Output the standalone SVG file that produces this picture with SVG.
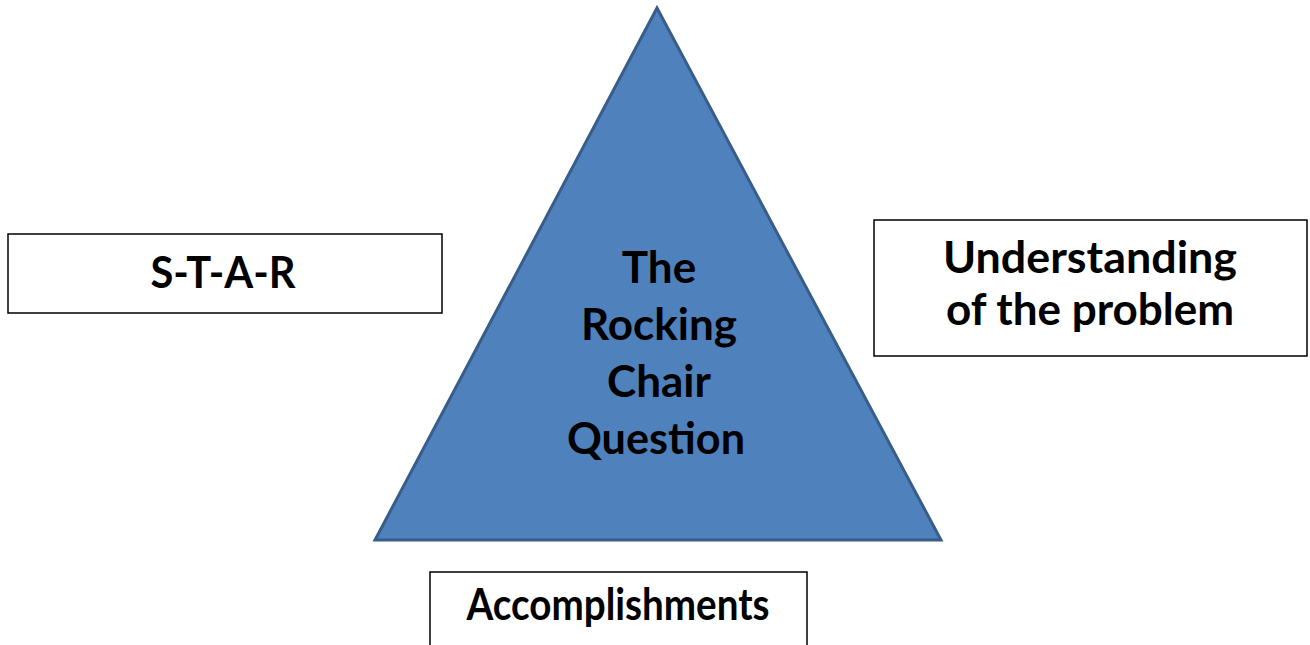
<svg xmlns="http://www.w3.org/2000/svg" width="1310" height="645" viewBox="0 0 1310 645">
  <style>
    .box { fill: #ffffff; stroke: #000000; stroke-width: 1.5; }
    .tri { fill: #4f81bd; stroke: #385d8a; stroke-width: 3; stroke-linejoin: miter; }
    .lbl { font-family: Lato, "Liberation Sans", sans-serif; font-weight: bold; font-size: 44px; fill: #000000; text-anchor: middle; }
  </style>
  <rect width="1310" height="645" fill="#ffffff"/>

  <g id="triangle">
    <polygon class="tri" points="657,8 941,540 375,540"/>
    <text class="lbl" x="659" y="283">The</text>
    <text class="lbl" x="659" y="340">Rocking</text>
    <text class="lbl" x="659" y="397">Chair</text>
    <text class="lbl" x="656" y="454" textLength="178" lengthAdjust="spacingAndGlyphs">Question</text>
  </g>

  <g id="star">
    <rect class="box" x="8" y="234" width="434" height="79"/>
    <text class="lbl" x="223" y="288" textLength="145" lengthAdjust="spacingAndGlyphs">S-T-A-R</text>
  </g>

  <g id="understanding">
    <rect class="box" x="874" y="220" width="433" height="136"/>
    <text class="lbl" x="1090" y="273" textLength="294" lengthAdjust="spacingAndGlyphs">Understanding</text>
    <text class="lbl" x="1090" y="325">of the problem</text>
  </g>

  <g id="accomplishments">
    <rect class="box" x="430" y="572" width="377" height="90"/>
    <text class="lbl" x="618" y="620" textLength="303" lengthAdjust="spacingAndGlyphs">Accomplishments</text>
  </g>

  <g id="connectors"/>
</svg>
